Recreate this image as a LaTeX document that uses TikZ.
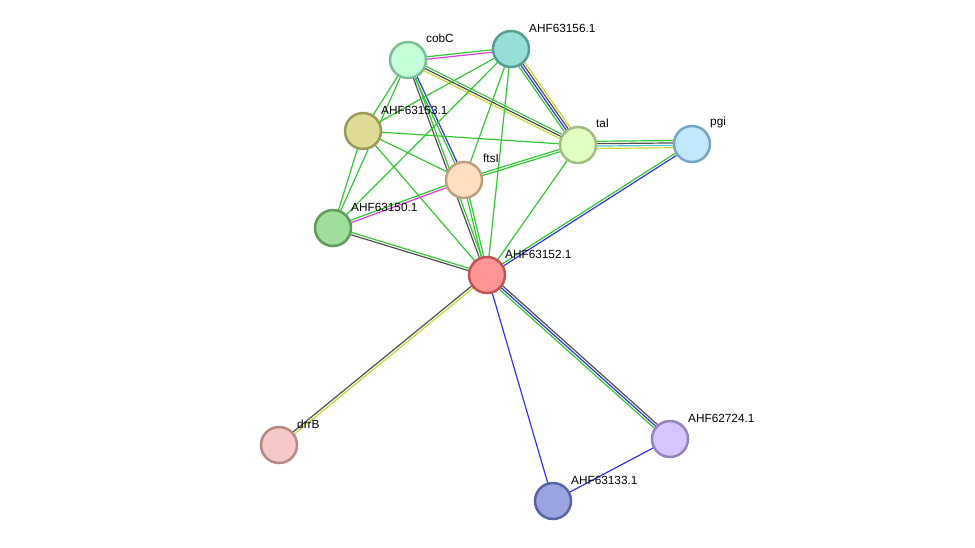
\documentclass[tikz,border=0pt]{standalone}
\usepackage{fontspec}
\setmainfont{Liberation Sans}
\usetikzlibrary{calc}
\definecolor{eg}{RGB}{51,200,51}
\definecolor{ek}{RGB}{80,80,80}
\definecolor{ey}{RGB}{200,214,43}
\definecolor{eb}{RGB}{51,51,240}
\definecolor{em}{RGB}{220,60,220}
\definecolor{ec}{RGB}{80,190,220}
\tikzset{
  prot/.style={circle,minimum size=36pt,inner sep=0pt,line width=2.5pt},
  lab/.style={anchor=south west,inner sep=0pt,font=\fontsize{11.8}{13}\selectfont},
  edgeline/.style={line width=1.2pt}
}
\newcommand{\medge}[3]{\foreach \col/\off in {#3}{\draw[\col,edgeline] ($(#1)!\off pt!90:(#2)$) -- ($(#2)!\off pt!-90:(#1)$);}}
\begin{document}
\begin{tikzpicture}[x=1pt,y=-1pt]
\useasboundingbox (0,0) rectangle (975,547);
\coordinate (cobC) at (408,60);
\coordinate (a156) at (511,49);
\coordinate (a153) at (363,131);
\coordinate (tal) at (578,145);
\coordinate (pgi) at (692,144);
\coordinate (ftsI) at (464,180);
\coordinate (a150) at (333,228);
\coordinate (a152) at (487,275);
\coordinate (drrB) at (279,445);
\coordinate (a724) at (670,439);
\coordinate (a133) at (553,501);
% edges
\medge{cobC}{a156}{eg/1.2,em/-1.2}
\medge{cobC}{tal}{eg/2.4,ek/0,ey/-2.4}
\medge{cobC}{ftsI}{eg/-1.2,eb/1.2}
\medge{cobC}{a152}{ek/-1.2,eg/1.2}
\medge{cobC}{a153}{eg/0}
\medge{cobC}{a150}{eg/0}
\medge{a156}{tal}{eg/-3.6,eb/-1.2,ek/1.2,ey/3.6}
\medge{a156}{a153}{eg/0}
\medge{a156}{a150}{eg/0}
\medge{a156}{ftsI}{eg/0}
\medge{a156}{a152}{eg/0}
\medge{a153}{tal}{eg/0}
\medge{a153}{ftsI}{eg/0}
\medge{a153}{a152}{eg/0}
\medge{a153}{a150}{eg/0}
\medge{tal}{pgi}{eg/3.6,ek/1.2,ec/-1.2,ey/-3.6}
\medge{tal}{ftsI}{eg/-1.2,eg/1.2}
\medge{tal}{a152}{eg/0}
\medge{pgi}{a152}{eg/-1.2,eb/1.2}
\medge{ftsI}{a150}{eg/-1.2,em/1.2}
\medge{ftsI}{a152}{eg/-1.2,eg/1.2}
\medge{a150}{a152}{eg/1.2,ek/-1.2}
\medge{a152}{drrB}{ek/-1.2,ey/1.2}
\medge{a152}{a724}{eg/-2.4,eb/0,ek/2.4}
\medge{a152}{a133}{eb/0}
\medge{a133}{a724}{eb/0}
% nodes
\node[prot,fill={rgb,255:red,195;green,255;blue,216},draw={rgb,255:red,125;green,190;blue,152}] (ncobC) at (cobC) {};
\node[prot,fill={rgb,255:red,151;green,223;blue,214},draw={rgb,255:red,88;green,156;blue,148}] (na156) at (a156) {};
\node[prot,fill={rgb,255:red,222;green,220;blue,150},draw={rgb,255:red,156;green,154;blue,90}] (na153) at (a153) {};
\node[prot,fill={rgb,255:red,224;green,255;blue,192},draw={rgb,255:red,160;green,190;blue,128}] (ntal) at (tal) {};
\node[prot,fill={rgb,255:red,192;green,232;blue,255},draw={rgb,255:red,122;green,166;blue,198}] (npgi) at (pgi) {};
\node[prot,fill={rgb,255:red,255;green,223;blue,192},draw={rgb,255:red,190;green,160;blue,128}] (nftsI) at (ftsI) {};
\node[prot,fill={rgb,255:red,158;green,224;blue,154},draw={rgb,255:red,94;green,156;blue,90}] (na150) at (a150) {};
\node[prot,fill={rgb,255:red,255;green,148;blue,148},draw={rgb,255:red,190;green,85;blue,85}] (na152) at (a152) {};
\node[prot,fill={rgb,255:red,247;green,200;blue,200},draw={rgb,255:red,184;green,136;blue,136}] (ndrrB) at (drrB) {};
\node[prot,fill={rgb,255:red,214;green,196;blue,255},draw={rgb,255:red,150;green,132;blue,192}] (na724) at (a724) {};
\node[prot,fill={rgb,255:red,154;green,164;blue,224},draw={rgb,255:red,90;green,100;blue,160}] (na133) at (a133) {};
% labels
\node[lab] (lcobC) at (426,43) {cobC};
\node[lab] (la156) at (529,33) {AHF63156.1};
\node[lab] (la153) at (381,115) {AHF63153.1};
\node[lab] (ltal) at (596,128) {tal};
\node[lab] (lpgi) at (710,128) {pgi};
\node[lab] (lftsI) at (483,163) {ftsI};
\node[lab] (la150) at (351,212) {AHF63150.1};
\node[lab] (la152) at (505,259) {AHF63152.1};
\node[lab] (ldrrB) at (297,429) {drrB};
\node[lab] (la724) at (688,423) {AHF62724.1};
\node[lab] (la133) at (571,485) {AHF63133.1};
\end{tikzpicture}
\end{document}
